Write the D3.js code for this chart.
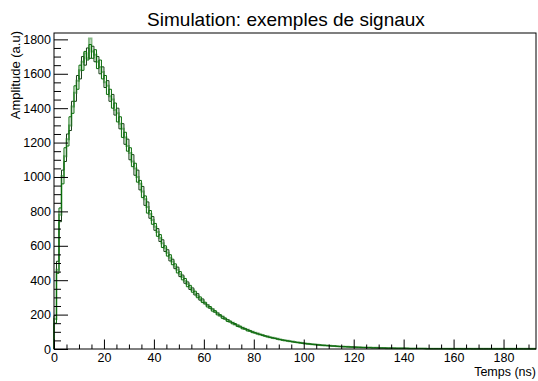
<!DOCTYPE html>
<html><head><meta charset="utf-8">
<script src="https://cdn.jsdelivr.net/npm/d3@7"></script>
<style>
body{margin:0;background:#fff}
text{font-family:"Liberation Sans",Arial,Helvetica,sans-serif;fill:#000}
</style></head>
<body><svg id="c" width="538" height="381"></svg>
<script>
// ---- data ----
const binStart = 0;      // ns
const binWidth = 1;      // ns
const signal1 = [
150,440,820,960,1170,1180,1350,1370,1530,1510,1650,1620,1730,1680,1770,1690,1740,1630,1680,1570,
1590,1480,1510,1400,1430,1320,1350,1230,1260,1150,1170,1060,1080,970,980,880,890,790,805,725,
730,655,665,590,600,540,548,490,495,442,450,402,410,362,370,330,336,298,303,270,
272,244,247,220,223,198,200,178,181,160,163,146,148,131,133,117,120,105,108,95,
95,87,86,78,77,70,69,63,63,57,56,51,51,46,46,41,41,37,37,33,
33,29,30,26,27,23,24,21,22,19,19,17,18,15,15,13,14,12,12,11,
11,10,10,9,9,8,8,7,7,7,6,6,6,5,5,5,5,4,4,4,
4,4,3,3,3,3,3,3,3,2,2,2,2,2,2,2,2,2,2,1,
2,1,2,1,1,2,1,1,1,1,1,1,1,1,1,1,1,1,1,1,
1,1,1,1,1,1,1,1,1,1,1,1,1];
const signal2 = [
195,510,740,1040,1090,1250,1270,1440,1440,1590,1570,1700,1650,1750,1690,1760,1670,1700,1600,1640,
1520,1560,1440,1480,1360,1400,1280,1310,1190,1220,1100,1130,1010,1040,925,945,835,855,760,770,
690,700,625,635,567,577,512,522,467,476,421,430,382,390,346,355,314,322,284,291,
262,257,237,233,214,210,193,190,174,171,157,154,142,139,128,125,115,113,103,101,
93,91,84,82,75,74,67,66,61,59,55,53,49,48,44,43,39,38,35,35,
31,31,28,28,25,25,22,22,20,20,18,18,16,16,14,14,13,13,12,12,
10,10,9,9,8,8,8,7,7,6,6,6,5,5,5,5,4,4,4,4,
4,3,3,3,3,3,3,3,2,2,2,2,2,2,2,2,2,2,1,1,
1,2,1,1,1,1,2,1,1,1,1,1,1,1,1,1,1,1,1,1,
1,1,1,1,1,1,1,1,1,1,1,1,1];
const signal3 = [
175,460,780,1005,1120,1220,1300,1410,1490,1560,1620,1670,1720,1690,1805,1730,1710,1670,1640,1610,
1550,1530,1470,1450,1390,1370,1310,1280,1230,1180,1140,1090,1050,1000,960,915,870,825,785,750,
710,680,645,615,585,560,530,508,480,460,435,418,396,378,357,343,322,310,292,281,
264,254,239,231,215,207,194,188,175,169,158,153,143,138,129,124,116,112,104,100,
94,90,85,81,76,73,68,66,62,59,55,53,50,48,45,43,40,39,36,35,
32,30,29,27,26,24,23,22,21,20,19,18,17,16,15,14,13,13,12,11,
11,10,10,9,9,8,8,7,7,7,6,6,6,5,5,5,5,4,4,4,
4,4,3,3,3,3,3,3,3,2,2,2,2,2,2,2,2,2,2,2,
1,1,1,1,1,1,1,1,1,1,1,1,1,1,1,1,1,1,1,1,
1,1,1,1,1,1,1,1,1,1,1,1,1];
const xTicks = [0,20,40,60,80,100,120,140,160,180];
const yTicks = [0,200,400,600,800,1000,1200,1400,1600,1800];
const titleText = "Simulation: exemples de signaux";
const xTitle = "Temps (ns)";
const yTitle = "Amplitude (a.u)";

// ---- layout ----
const L=54, R=536, T=33, B=349;
const svg = d3.select("#c");
const x = d3.scaleLinear().domain([0,193]).range([L,R]);
const y = d3.scaleLinear().domain([0,1837]).range([B,T]);

function stepPts(vals){
  const pts=[[binStart,0]];
  vals.forEach((v,i)=>pts.push([binStart+i*binWidth,v]));
  pts.push([binStart+vals.length*binWidth, vals[vals.length-1]]);
  return pts;
}
const line = d3.line().x(d=>x(d[0])).y(d=>y(d[1])).curve(d3.curveStepAfter);

const series = [
  {vals:signal2, color:"#173f17", w:1},
  {vals:signal3, color:"rgba(40,130,40,0.55)", w:2},
  {vals:signal1, color:"#0a6e0a", w:1}
];
const g = svg.append("g");
series.forEach(s=>{
  g.append("path").attr("d", line(stepPts(s.vals)))
   .attr("fill","none").attr("stroke",s.color).attr("stroke-width",s.w);
});

// axes
const yMinor = d3.range(0,1837,50).filter(v=>v%200!==0);
const xMinor = d3.range(0,193,5).filter(v=>v%20!==0);
svg.append("g").attr("transform",`translate(${L},0)`)
  .call(d3.axisLeft(y).tickValues(yMinor).tickSize(-7).tickFormat(""))
  .call(a=>a.select(".domain").remove());
svg.append("g").attr("transform",`translate(${L},0)`)
  .call(d3.axisLeft(y).tickValues(yTicks).tickSize(-14).tickPadding(3).tickFormat(d3.format("d")))
  .call(a=>a.select(".domain").remove())
  .call(a=>a.selectAll("text").style("font-size","12.5px"));
svg.append("g").attr("transform",`translate(0,${B})`)
  .call(d3.axisBottom(x).tickValues(xMinor).tickSize(-4.5).tickFormat(""))
  .call(a=>a.select(".domain").remove());
svg.append("g").attr("transform",`translate(0,${B})`)
  .call(d3.axisBottom(x).tickValues(xTicks).tickSize(-9.5).tickPadding(4).tickFormat(d3.format("d")))
  .call(a=>a.select(".domain").remove())
  .call(a=>a.selectAll("text").style("font-size","12.5px"));

svg.append("rect").attr("x",L).attr("y",T).attr("width",R-L).attr("height",B-T)
  .attr("fill","none").attr("stroke","#000").attr("stroke-width",1);

svg.append("text").attr("x",286).attr("y",26).attr("text-anchor","middle")
  .style("font-size","19px").text(titleText);
svg.append("text").attr("x",R).attr("y",376).attr("text-anchor","end")
  .style("font-size","12.5px").text(xTitle);
svg.append("text").attr("transform",`translate(20,${T-2}) rotate(-90)`).attr("text-anchor","end")
  .style("font-size","13px").text(yTitle);
</script></body></html>
